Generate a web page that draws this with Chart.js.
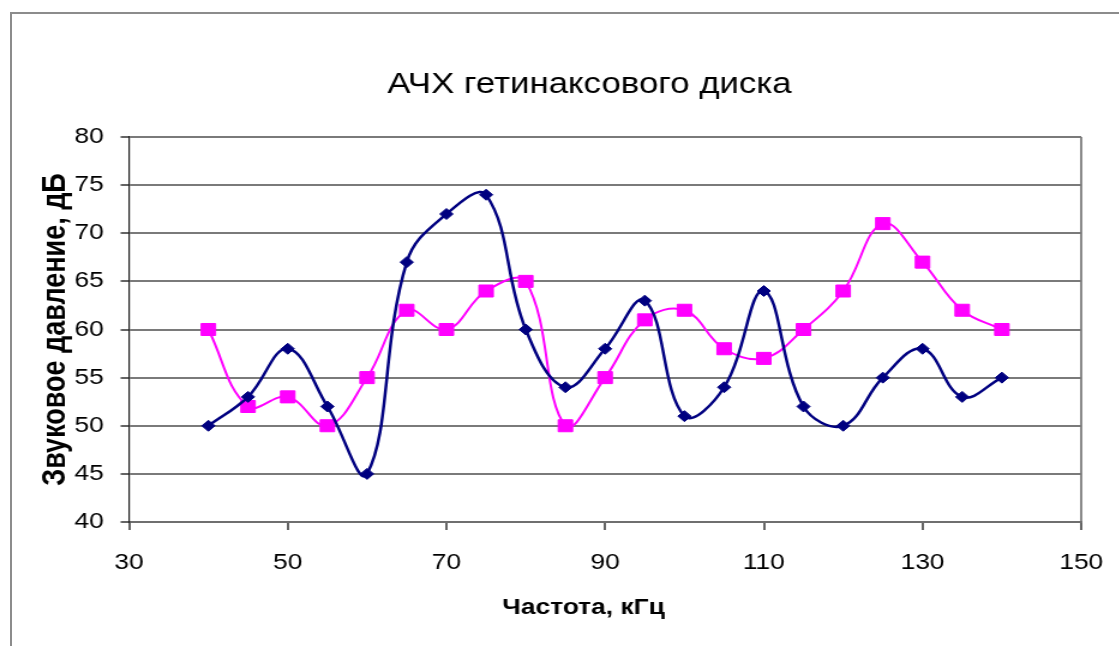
<!DOCTYPE html>
<html lang="ru">
<head>
<meta charset="utf-8">
<title>АЧХ гетинаксового диска</title>
<script src="https://cdn.jsdelivr.net/npm/chart.js@4.4.1/dist/chart.umd.min.js"></script>
<style>
  html, body { margin: 0; padding: 0; background: #ffffff; overflow: hidden; }
  #wrap { position: relative; width: 1119px; height: 646px; overflow: hidden; }
  #frame {
    position: absolute; left: 10px; top: 12px; right: -4px; bottom: -4px;
    border-left: 2px solid #8c8c8c; border-top: 2px solid #8c8c8c;
  }
  /* the drawing is laid out narrow and widened horizontally */
  #stage { position: absolute; left: 0; top: 0; transform: scaleX(1.2); transform-origin: 0 0; }
  #plot { display: block; }
</style>
</head>
<body>
<div id="wrap">
  <div id="frame"></div>
  <div id="stage"><canvas id="plot" width="933" height="646"></canvas></div>
</div>
<script>
// Frequency, kHz
const frequencies = [40, 45, 50, 55, 60, 65, 70, 75, 80, 85, 90, 95, 100, 105, 110, 115, 120, 125, 130, 135, 140];
// Sound pressure, dB — two measurement series
const pressureNavy    = [50, 53, 58, 52, 45, 67, 72, 74, 60, 54, 58, 63, 51, 54, 64, 52, 50, 55, 58, 53, 55];
const pressureMagenta = [60, 52, 53, 50, 55, 62, 60, 64, 65, 50, 55, 61, 62, 58, 57, 60, 64, 71, 67, 62, 60];

const chartTitle = 'АЧХ гетинаксового диска';
const xTitle = 'Частота, кГц';
const yTitle = 'Звуковое давление, дБ';

const xTicks = { min: 30, max: 150, step: 20 };
const yTicks = { min: 40, max: 80, step: 5 };

const FONT = '"Liberation Sans", Arial, Helvetica, sans-serif';

function toPoints(xs, ys) {
  return xs.map((x, i) => ({ x: x, y: ys[i] }));
}

// Draws the chart heading and the horizontal axis caption
const captions = {
  id: 'captions',
  afterDraw(chart) {
    const { ctx, chartArea } = chart;
    const cx = (chartArea.left + chartArea.right) / 2;
    ctx.save();
    ctx.fillStyle = '#000000';
    ctx.textAlign = 'center';
    ctx.textBaseline = 'alphabetic';
    ctx.font = '29px ' + FONT;
    ctx.fillText(chartTitle, cx - 13, chartArea.top - 44);
    ctx.font = 'bold 22px ' + FONT;
    ctx.fillText(xTitle, cx - 18, chartArea.bottom + 92);
    ctx.restore();
  }
};

new Chart(document.getElementById('plot'), {
  type: 'scatter',
  data: {
    datasets: [
      {
        data: toPoints(frequencies, pressureNavy),
        showLine: true,
        borderColor: '#000080',
        backgroundColor: '#000080',
        borderWidth: 2.5,
        tension: 0.4,
        pointStyle: 'rectRot',
        pointRadius: 5.5,
        pointBorderWidth: 1,
        pointBorderColor: '#000080',
        pointBackgroundColor: '#000080'
      },
      {
        data: toPoints(frequencies, pressureMagenta),
        showLine: true,
        borderColor: '#ff00ff',
        backgroundColor: '#ff00ff',
        borderWidth: 2,
        tension: 0.4,
        pointStyle: 'rect',
        pointRadius: 8.5,
        pointBorderWidth: 1,
        pointBorderColor: '#ff00ff',
        pointBackgroundColor: '#ff00ff'
      }
    ]
  },
  options: {
    responsive: false,
    animation: false,
    events: [],
    layout: { padding: { left: 0, right: 32, top: 137, bottom: 0 } },
    plugins: {
      legend: { display: false },
      title: { display: false },
      tooltip: { enabled: false }
    },
    scales: {
      x: {
        type: 'linear',
        min: xTicks.min,
        max: xTicks.max,
        afterFit(scale) {
          scale.height = 124;
          scale.paddingLeft = 0;
          scale.paddingRight = 0;
        },
        ticks: {
          stepSize: xTicks.step,
          color: '#000000',
          padding: 20,
          maxRotation: 0,
          font: { family: FONT, size: 22 }
        },
        grid: {
          drawOnChartArea: true,
          color: (c) => (c.tick && c.tick.value === xTicks.max ? '#8a8a8a' : 'rgba(0,0,0,0)'),
          lineWidth: 2,
          tickLength: 8,
          tickColor: '#303030',
          tickWidth: 1.5
        },
        border: { display: true, color: '#6f6f6f', width: 2 }
      },
      y: {
        type: 'linear',
        min: yTicks.min,
        max: yTicks.max,
        afterFit(scale) { scale.width = 107.5; },
        ticks: {
          stepSize: yTicks.step,
          color: '#000000',
          padding: 14,
          font: { family: FONT, size: 22 }
        },
        grid: {
          color: '#7a7a7a',
          lineWidth: 2,
          tickLength: 7,
          tickColor: '#303030',
          tickWidth: 1.5
        },
        border: { display: true, color: '#202020', width: 1.2 },
        title: {
          display: true,
          text: yTitle,
          color: '#000000',
          font: { family: FONT, size: 27, weight: 'bold' },
          padding: { top: 30, bottom: 0 }
        }
      }
    }
  },
  plugins: [captions]
});
</script>
</body>
</html>
